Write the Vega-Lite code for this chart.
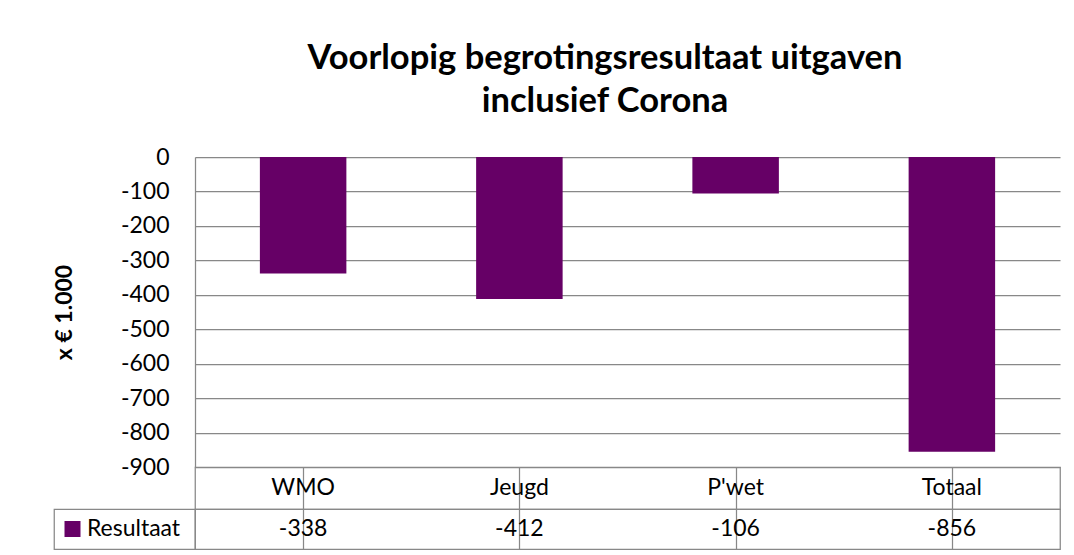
{
  "$schema": "https://vega.github.io/schema/vega-lite/v6.json",
  "padding": {"left": 53, "top": 40, "right": 15, "bottom": 6},
  "background": "white",
  "title": {
    "text": ["Voorlopig begrotingsresultaat uitgaven", "inclusief Corona"],
    "fontSize": 34.5, "fontWeight": "bold", "font": "Lato", "color": "black",
    "anchor": "middle", "dx": 48, "lineHeight": 43, "offset": 27
  },
  "data": {"values": [
    {"categorie": "WMO", "resultaat": -338},
    {"categorie": "Jeugd", "resultaat": -412},
    {"categorie": "P'wet", "resultaat": -106},
    {"categorie": "Totaal", "resultaat": -856}
  ]},
  "columns": 2,
  "spacing": 0,
  "bounds": "flush",
  "align": "each",
  "concat": [
    {"data": {"values": []}, "mark": "point", "encoding": {}, "width": 141, "height": 310},
    {
      "width": 865, "height": 310,
      "mark": {"type": "bar", "color": "#660066"},
      "encoding": {
        "x": {"field": "categorie", "type": "nominal", "sort": null,
              "scale": {"paddingInner": 0.6, "paddingOuter": 0.3}, "axis": null},
        "y": {"field": "resultaat", "type": "quantitative",
              "scale": {"domain": [-900, 0], "nice": false},
              "axis": {
                "values": [-900, -800, -700, -600, -500, -400, -300, -200, -100, 0],
                "labelExpr": "toString(datum.value)",
                "title": "x € 1.000", "titleFontSize": 23, "titleFontWeight": "bold",
                "titleColor": "black", "titlePadding": 44,
                "labelFontSize": 23, "labelColor": "black", "labelPadding": 26,
                "labelOverlap": false,
                "ticks": false, "grid": true, "gridColor": "#888", "gridWidth": 1.25,
                "domainColor": "#888", "domainWidth": 1.25
              }}
      }
    },
    {"data": {"values": []}, "mark": "point", "encoding": {}, "width": 141, "height": 42},
    {
      "width": 865, "height": 42,
      "view": {"stroke": "#888", "strokeWidth": 1.25},
      "mark": {"type": "text", "fontSize": 23, "color": "black"},
      "encoding": {
        "x": {"field": "categorie", "type": "nominal", "sort": null,
              "scale": {"paddingInner": 0, "paddingOuter": 0},
              "axis": {"bandPosition": 0, "grid": true, "gridColor": "#888", "gridWidth": 1.25,
                       "labels": false, "ticks": false, "domain": false, "title": null}},
        "text": {"field": "categorie"}
      }
    },
    {
      "width": 141, "height": 40,
      "view": {"stroke": "#888", "strokeWidth": 1.25},
      "data": {"values": [{"reeks": "Resultaat"}]},
      "layer": [
        {"mark": {"type": "point", "shape": "square", "filled": true, "size": 256,
                  "color": "#660066", "opacity": 1, "xOffset": -52}, "encoding": {}},
        {"mark": {"type": "text", "fontSize": 23, "color": "black", "dx": 9},
         "encoding": {"text": {"field": "reeks"}}}
      ]
    },
    {
      "width": 865, "height": 40,
      "view": {"stroke": "#888", "strokeWidth": 1.25},
      "mark": {"type": "text", "fontSize": 23, "color": "black"},
      "encoding": {
        "x": {"field": "categorie", "type": "nominal", "sort": null,
              "scale": {"paddingInner": 0, "paddingOuter": 0},
              "axis": {"bandPosition": 0, "grid": true, "gridColor": "#888", "gridWidth": 1.25,
                       "labels": false, "ticks": false, "domain": false, "title": null}},
        "text": {"field": "resultaat", "type": "nominal"}
      }
    }
  ],
  "config": {
    "view": {"stroke": null},
    "font": "Lato",
    "axis": {"labelFont": "Lato", "titleFont": "Lato"}
  }
}
